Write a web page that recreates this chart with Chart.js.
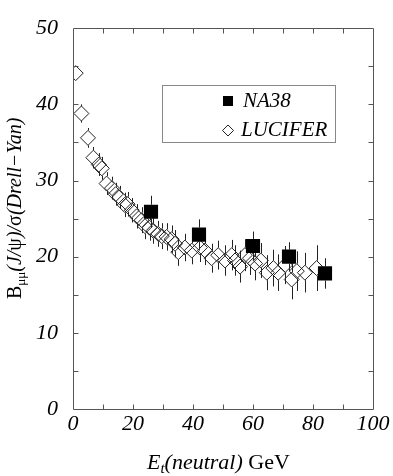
<!DOCTYPE html>
<html>
<head>
<meta charset="utf-8">
<script src="https://cdn.jsdelivr.net/npm/chart.js@4"></script>
<style>
  html, body { margin: 0; padding: 0; background: #fff; }
</style>
</head>
<body>
<canvas id="c" width="393" height="476"></canvas>
<script>
// NA38 measurements
const na38X   = [26, 42, 60, 72, 84];
const na38Y   = [25.9, 22.9, 21.4, 20.0, 17.8];
const na38Err = [2.1, 2.0, 1.9, 1.9, 2.0];

// LUCIFER simulation
const lucX   = [0.9, 2.8, 5.0, 6.8, 8.6, 9.6, 11.2, 13.0, 14.2, 15.5, 17.2, 18.2, 19.6, 21.2, 22.9, 24.0, 25.5, 26.8, 28.4, 29.6,
                31.2, 32.9, 34.0, 35.1, 37.3, 39.6, 42.3, 44.0, 46.2, 48.4, 50.7, 52.9, 54.0, 55.7, 57.3, 59.0, 60.7, 62.6,
                64.6, 66.8, 68.4, 70.7, 72.9, 74.6, 77.3, 81.2];
const lucY   = [44.1, 38.8, 35.6, 33.0, 32.1, 31.6, 29.6, 29.0, 28.2, 27.8, 26.8, 26.9, 26.1, 25.3, 24.8, 24.0, 23.8, 23.4, 23.0, 22.7,
                22.6, 22.3, 21.7, 20.6, 21.2, 20.8, 21.2, 20.8, 19.8, 20.2, 19.5, 20.2, 19.5, 18.7, 20.2, 19.8, 19.1, 19.5,
                17.9, 18.5, 17.9, 18.9, 17.0, 18.1, 17.9, 18.5];
const lucErr = [0.6, 1.2, 1.3, 1.4, 1.5, 1.5, 1.5, 1.5, 1.5, 1.5, 1.6, 1.6, 1.6, 1.6, 1.7, 1.7, 1.7, 1.7, 1.7, 1.7,
                1.8, 1.8, 1.8, 1.8, 1.8, 1.8, 1.9, 1.9, 1.9, 1.9, 2.0, 2.0, 2.0, 2.1, 2.1, 2.2, 2.2, 2.3,
                2.3, 2.4, 2.4, 2.5, 2.6, 2.6, 2.6, 3.0];

// Axis ticks
const xTickLabels = [0, 20, 40, 60, 80, 100];
const yTickLabels = [0, 10, 20, 30, 40, 50];
const xMinorTicks = [10, 20, 30, 40, 50, 60, 70, 80, 90];
const yMinorTicks = [5, 10, 15, 20, 25, 30, 35, 40, 45];

const SERIF = '"Liberation Serif", "Times New Roman", serif';
const LUC_R = 7.5; // diamond radius
const NA_R = 10;   // square radius

function pts(xs, ys) { return xs.map((x, i) => ({ x: x, y: ys[i] })); }

// Vertical error bars, drawn outside the marker
const errorBars = {
  id: 'errorBars',
  beforeDatasetsDraw(chart) {
    const { ctx, scales: { x, y } } = chart;
    ctx.save();
    ctx.strokeStyle = '#222';
    ctx.lineWidth = 1;
    const draw = (xs, ys, es, r) => {
      xs.forEach((v, i) => {
        const px = Math.round(x.getPixelForValue(v)) + 0.5;
        const pc = y.getPixelForValue(ys[i]);
        const pt = y.getPixelForValue(ys[i] + es[i]);
        const pb = y.getPixelForValue(ys[i] - es[i]);
        ctx.beginPath();
        if (pc - pt > r) { ctx.moveTo(px, pt); ctx.lineTo(px, pc - r); }
        if (pb - pc > r) { ctx.moveTo(px, pc + r); ctx.lineTo(px, pb); }
        ctx.stroke();
      });
    };
    draw(lucX, lucY, lucErr, LUC_R);
    draw(na38X, na38Y, na38Err, NA_R * Math.SQRT1_2);
    ctx.restore();
  }
};

// Frame with inward tick marks on all four sides
const frame = {
  id: 'frame',
  afterDraw(chart) {
    const { ctx, chartArea: a, scales: { x, y } } = chart;
    const L = Math.round(a.left) + 0.5, R = Math.round(a.right) + 0.5;
    const T = Math.round(a.top) + 0.5, B = Math.round(a.bottom) + 0.5;
    ctx.save();
    ctx.strokeStyle = '#555';
    ctx.lineWidth = 1;
    ctx.beginPath();
    ctx.rect(L, T, R - L, B - T);
    xMinorTicks.forEach(v => {
      const px = Math.round(x.getPixelForValue(v)) + 0.5;
      ctx.moveTo(px, B); ctx.lineTo(px, B - 5);
      ctx.moveTo(px, T); ctx.lineTo(px, T + 5);
    });
    yMinorTicks.forEach(v => {
      const py = Math.round(y.getPixelForValue(v)) + 0.5;
      ctx.moveTo(L, py); ctx.lineTo(L + 5, py);
      ctx.moveTo(R, py); ctx.lineTo(R - 5, py);
    });
    ctx.stroke();
    ctx.restore();
  }
};

// Draws a run of text pieces with mixed fonts / subscripts
function drawRuns(ctx, runs, x0, y0) {
  let x = x0;
  runs.forEach(r => {
    ctx.font = r.font;
    ctx.fillText(r.t, x, y0 + (r.dy || 0));
    x += ctx.measureText(r.t).width;
  });
}

const titles = {
  id: 'titles',
  afterDraw(chart) {
    const ctx = chart.ctx;
    ctx.save();
    ctx.fillStyle = '#000';
    ctx.textBaseline = 'alphabetic';
    ctx.textAlign = 'left';
    // x axis title
    drawRuns(ctx, [
      { t: 'E', font: 'italic 22px ' + SERIF },
      { t: 't', font: 'italic 15px ' + SERIF, dy: 4 },
      { t: '(neutral)', font: 'italic 22px ' + SERIF },
      { t: ' GeV', font: '22px ' + SERIF }
    ], 147, 469);
    // y axis title
    ctx.translate(21, 299);
    ctx.rotate(-Math.PI / 2);
    drawRuns(ctx, [
      { t: 'B', font: '20px ' + SERIF },
      { t: 'μμ', font: '13px ' + SERIF, dy: 4 },
      { t: '(J/', font: 'italic 20px ' + SERIF },
      { t: 'ψ', font: '20px ' + SERIF },
      { t: ')/', font: 'italic 20px ' + SERIF },
      { t: 'σ', font: '20px ' + SERIF },
      { t: '(Drell−Yan)', font: 'italic 20px ' + SERIF }
    ], 0, 0);
    ctx.restore();
  }
};

const legendBox = {
  id: 'legendBox',
  afterDraw(chart) {
    const ctx = chart.ctx;
    ctx.save();
    ctx.strokeStyle = '#888';
    ctx.lineWidth = 1;
    ctx.strokeRect(162.5, 85.5, 173, 57);
    // NA38 entry
    ctx.fillStyle = '#000';
    ctx.fillRect(223, 96, 10, 10);
    ctx.font = 'italic 21px ' + SERIF;
    ctx.textBaseline = 'alphabetic';
    ctx.fillText('NA38', 243, 107);
    // LUCIFER entry
    ctx.strokeStyle = '#222';
    ctx.beginPath();
    const cx = 228, cy = 130.5, r = 5.5;
    ctx.moveTo(cx, cy - r); ctx.lineTo(cx + r, cy); ctx.lineTo(cx, cy + r); ctx.lineTo(cx - r, cy); ctx.closePath();
    ctx.stroke();
    ctx.fillText('LUCIFER', 241, 136);
    ctx.restore();
  }
};

function build() {
  new Chart(document.getElementById('c'), {
    type: 'scatter',
    data: {
      datasets: [
        {
          label: 'NA38',
          data: pts(na38X, na38Y),
          pointStyle: 'rect',
          pointRadius: NA_R,
          backgroundColor: '#000',
          borderColor: '#000',
          borderWidth: 0,
          order: 0
        },
        {
          label: 'LUCIFER',
          data: pts(lucX, lucY),
          pointStyle: 'rectRot',
          pointRadius: LUC_R,
          backgroundColor: 'rgba(255,255,255,0)',
          borderColor: '#222',
          borderWidth: 1,
          order: 1
        }
      ]
    },
    options: {
      responsive: false,
      animation: false,
      devicePixelRatio: 1,
      layout: { padding: { top: 15, right: 20, left: 0, bottom: 0 } },
      plugins: { legend: { display: false }, tooltip: { enabled: false } },
      scales: {
        x: {
          type: 'linear', min: 0, max: 100,
          afterBuildTicks: s => { s.ticks = xTickLabels.map(v => ({ value: v })); },
          afterFit: s => { s.height = 67; },
          grid: { display: false, drawTicks: false },
          border: { display: false },
          ticks: { color: '#000', padding: 2, maxRotation: 0, font: { family: SERIF, size: 22, style: 'italic' } }
        },
        y: {
          type: 'linear', min: 0, max: 50,
          afterBuildTicks: s => { s.ticks = yTickLabels.map(v => ({ value: v })); },
          afterFit: s => { s.width = 73; },
          grid: { display: false, drawTicks: false },
          border: { display: false },
          ticks: { color: '#000', padding: 15, font: { family: SERIF, size: 22, style: 'italic' } }
        }
      }
    },
    plugins: [errorBars, frame, titles, legendBox]
  });
}

// make sure the serif faces are ready before the canvas is painted
Promise.all([
  document.fonts.load('italic 22px "Liberation Serif"'),
  document.fonts.load('22px "Liberation Serif"')
]).then(build, build);
</script>
</body>
</html>
